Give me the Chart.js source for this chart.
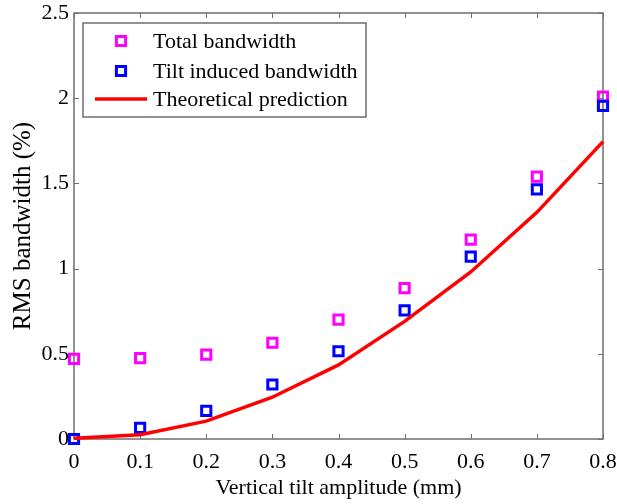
<!DOCTYPE html>
<html>
<head>
<meta charset="utf-8">
<script src="https://cdn.jsdelivr.net/npm/chart.js@4.4.1/dist/chart.umd.min.js"></script>
<style>
  html, body { margin: 0; padding: 0; background: #fff; }
  canvas { display: block; }
</style>
</head>
<body>
<canvas id="chart" width="617" height="504"></canvas>
<script>
// tilt amplitude (mm) and RMS bandwidth (%) per run
const tiltAmplitude = [0, 0.1, 0.2, 0.3, 0.4, 0.5, 0.6, 0.7, 0.8];
const totalBandwidth = [0.47, 0.475, 0.495, 0.565, 0.70, 0.885, 1.17, 1.54, 2.01];
const tiltBandwidth = [0.0, 0.065, 0.165, 0.32, 0.515, 0.755, 1.07, 1.465, 1.955];
const theoryBandwidth = [0.005, 0.025, 0.105, 0.245, 0.435, 0.69, 0.98, 1.33, 1.745];

const seriesNames = ['Total bandwidth', 'Tilt induced bandwidth', 'Theoretical prediction'];

const xTickValues = [0, 0.1, 0.2, 0.3, 0.4, 0.5, 0.6, 0.7, 0.8];
const xTickLabels = ['0', '0.1', '0.2', '0.3', '0.4', '0.5', '0.6', '0.7', '0.8'];
const yTickValues = [0, 0.5, 1, 1.5, 2, 2.5];
const yTickLabels = ['0', '0.5', '1', '1.5', '2', '2.5'];

const FONT = "'Liberation Serif', 'Times New Roman', serif";
const AXIS_COLOR = '#6e6e6e';

const toPoints = (ys) => tiltAmplitude.map((x, i) => ({ x, y: ys[i] }));

// box round the plot with inward ticks on all four sides
const frameTicks = {
  id: 'frameTicks',
  beforeDatasetsDraw(chart) {
    const { ctx, chartArea: { left, right, top, bottom }, scales } = chart;
    const len = 5;
    ctx.save();
    ctx.strokeStyle = AXIS_COLOR;
    ctx.lineWidth = 1.5;
    ctx.strokeRect(left, top, right - left, bottom - top);
    ctx.beginPath();
    xTickValues.forEach((v) => {
      const px = Math.round(scales.x.getPixelForValue(v)) + 0.5;
      ctx.moveTo(px, bottom); ctx.lineTo(px, bottom - len);
      ctx.moveTo(px, top); ctx.lineTo(px, top + len);
    });
    yTickValues.forEach((v) => {
      const py = Math.round(scales.y.getPixelForValue(v)) + 0.5;
      ctx.moveTo(left, py); ctx.lineTo(left + len, py);
      ctx.moveTo(right, py); ctx.lineTo(right - len, py);
    });
    ctx.lineWidth = 1;
    ctx.stroke();
    ctx.restore();
  },
};

// legend box in the upper left corner of the plot
const boxLegend = {
  id: 'boxLegend',
  afterDatasetsDraw(chart) {
    const { ctx, chartArea: { left, top } } = chart;
    const x0 = left + 9, y0 = top + 10, w = 283, h = 94;
    const rows = [18, 48, 76];
    ctx.save();
    ctx.fillStyle = '#fff';
    ctx.fillRect(x0, y0, w, h);
    ctx.strokeStyle = AXIS_COLOR;
    ctx.lineWidth = 1.5;
    ctx.strokeRect(x0, y0, w, h);
    ctx.font = '22px ' + FONT;
    ctx.textBaseline = 'middle';
    ctx.textAlign = 'left';
    chart.data.datasets.forEach((ds, i) => {
      const y = y0 + rows[i];
      if (ds.showLine) {
        ctx.strokeStyle = ds.borderColor;
        ctx.lineWidth = ds.borderWidth;
        ctx.beginPath();
        ctx.moveTo(x0 + 12, y);
        ctx.lineTo(x0 + 64, y);
        ctx.stroke();
      } else {
        const s = ds.pointRadius * Math.SQRT1_2;
        ctx.strokeStyle = ds.pointBorderColor;
        ctx.lineWidth = ds.pointBorderWidth;
        ctx.beginPath();
        ctx.rect(x0 + 38 - s, y - s, 2 * s, 2 * s);
        ctx.stroke();
      }
      ctx.fillStyle = '#000';
      ctx.fillText(ds.label, x0 + 70, y + 1);
    });
    ctx.restore();
  },
};

const markerSet = (label, ys, color, order) => ({
  label,
  data: toPoints(ys),
  showLine: false,
  pointStyle: 'rect',
  pointRadius: 6.5,
  pointHoverRadius: 6.5,
  pointBorderWidth: 3,
  pointBorderColor: color,
  pointBackgroundColor: 'rgba(0,0,0,0)',
  borderColor: color,
  backgroundColor: 'rgba(0,0,0,0)',
  clip: false,
  order,
});

new Chart(document.getElementById('chart'), {
  type: 'scatter',
  data: {
    datasets: [
      markerSet(seriesNames[0], totalBandwidth, '#ff00ff', 2),
      markerSet(seriesNames[1], tiltBandwidth, '#0000ff', 1),
      {
        label: seriesNames[2],
        data: toPoints(theoryBandwidth),
        showLine: true,
        borderColor: '#ff0000',
        borderWidth: 3.5,
        pointRadius: 0,
        pointHoverRadius: 0,
        tension: 0,
        clip: false,
        order: 0,
      },
    ],
  },
  options: {
    responsive: false,
    animation: false,
    events: [],
    layout: { padding: { top: 13, right: 14, left: 0, bottom: 0 } },
    plugins: {
      legend: { display: false },
      tooltip: { enabled: false },
    },
    scales: {
      x: {
        type: 'linear',
        min: 0,
        max: 0.8,
        grid: { display: false, drawTicks: false },
        border: { display: false },
        afterBuildTicks: (scale) => { scale.ticks = xTickValues.map((value) => ({ value })); },
        afterFit: (scale) => {
          scale.height = 65;
          // edge labels may hang past the plot, keep the plot width fixed
          scale.paddingLeft = 0;
          scale.paddingRight = 0;
        },
        ticks: {
          padding: 10,
          color: '#000',
          font: { family: FONT, size: 22 },
          maxRotation: 0,
          callback: (value, i) => xTickLabels[i],
        },
        title: {
          display: true,
          text: 'Vertical tilt amplitude (mm)',
          color: '#000',
          font: { family: FONT, size: 22 },
          padding: { top: 0, bottom: 3 },
        },
      },
      y: {
        type: 'linear',
        min: 0,
        max: 2.5,
        grid: { display: false, drawTicks: false },
        border: { display: false },
        afterBuildTicks: (scale) => { scale.ticks = yTickValues.map((value) => ({ value })); },
        afterFit: (scale) => {
          scale.width = 74;
          scale.paddingTop = 0;
          scale.paddingBottom = 0;
        },
        ticks: {
          padding: 5,
          color: '#000',
          font: { family: FONT, size: 22 },
          callback: (value, i) => yTickLabels[i],
        },
        title: {
          display: true,
          text: 'RMS bandwidth (%)',
          color: '#000',
          font: { family: FONT, size: 25 },
          padding: { top: 8, bottom: 0 },
        },
      },
    },
  },
  plugins: [frameTicks, boxLegend],
});
</script>
</body>
</html>
